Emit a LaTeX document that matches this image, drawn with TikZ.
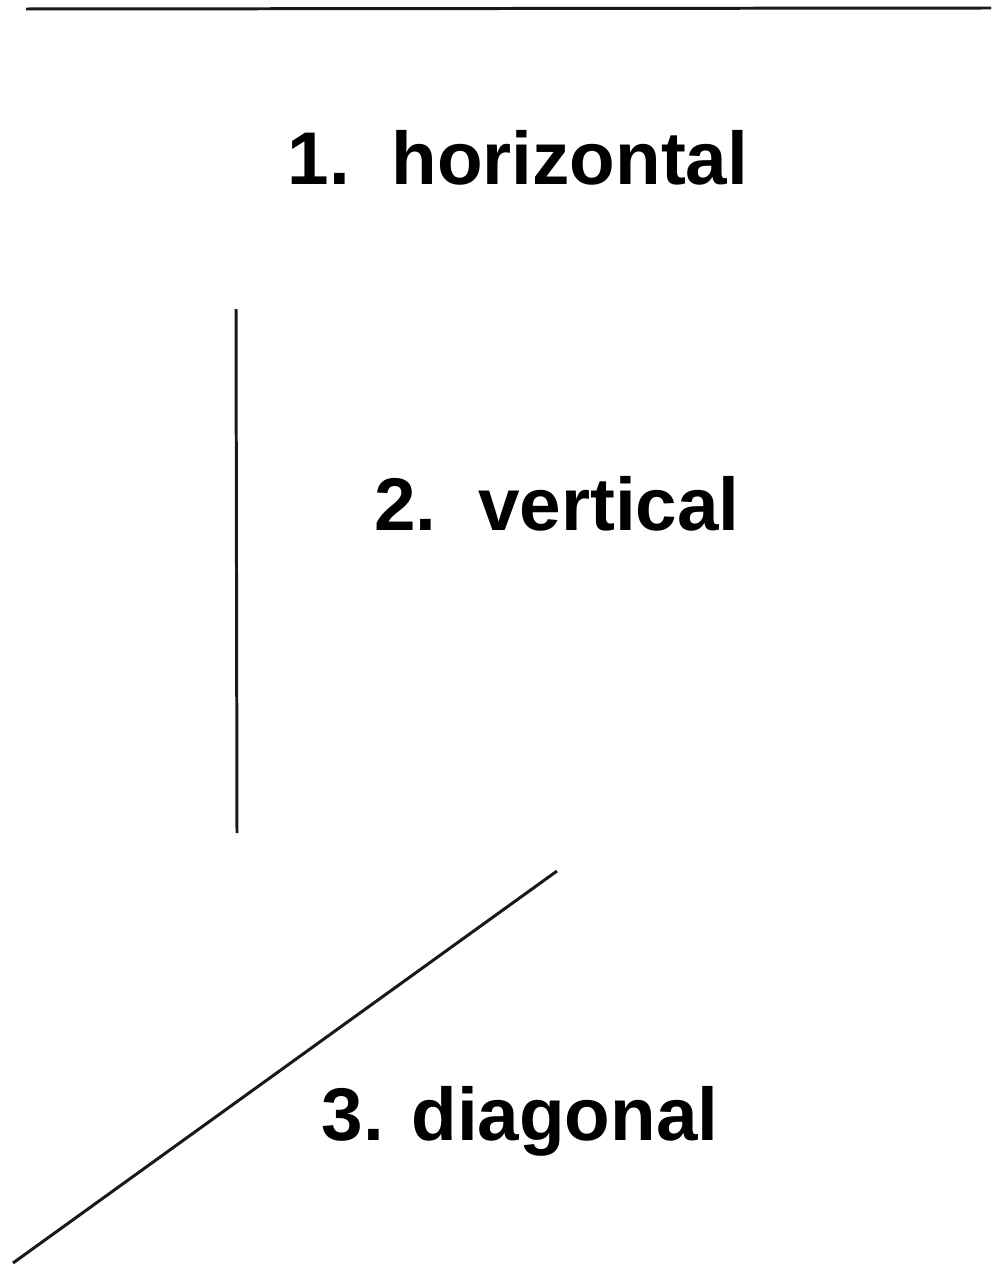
\documentclass[tikz,border=0pt]{standalone}
\usepackage{fontspec}
\setmainfont{Liberation Sans}
\usepackage{tikz}
\usetikzlibrary{positioning}

\begin{document}
\begin{tikzpicture}[
        x=0.02cm, y=-0.02cm,
        linelabel/.style={anchor=base, inner sep=0pt, font=\bfseries\fontsize{42.5}{50}\selectfont},
        stroke/.style={line width=1.7pt, black!90}
    ]
        \useasboundingbox (0,0) rectangle (991,1277);
        % end points of the three lines
        \coordinate (hstart) at (26,9);
        \coordinate (hend) at (991,8);
        \coordinate (vtop) at (236,309);
        \coordinate (vbottom) at (237,833);
        \coordinate (dtop) at (557,871);
        \coordinate (dbottom) at (13,1263);
        \draw[stroke] (hstart) -- (hend);
        \draw[stroke] (vtop) -- (vbottom);
        \draw[stroke] (dtop) -- (dbottom);
        % labels
        \node[linelabel] (horizontal) at (518,185) {1.\ \ horizontal};
        \node[linelabel] (vertical) at (557,530) {2.\ \ vertical};
        \node[linelabel] (diagonal) at (520,1140) {3. diagonal};
    \end{tikzpicture}
\end{document}
